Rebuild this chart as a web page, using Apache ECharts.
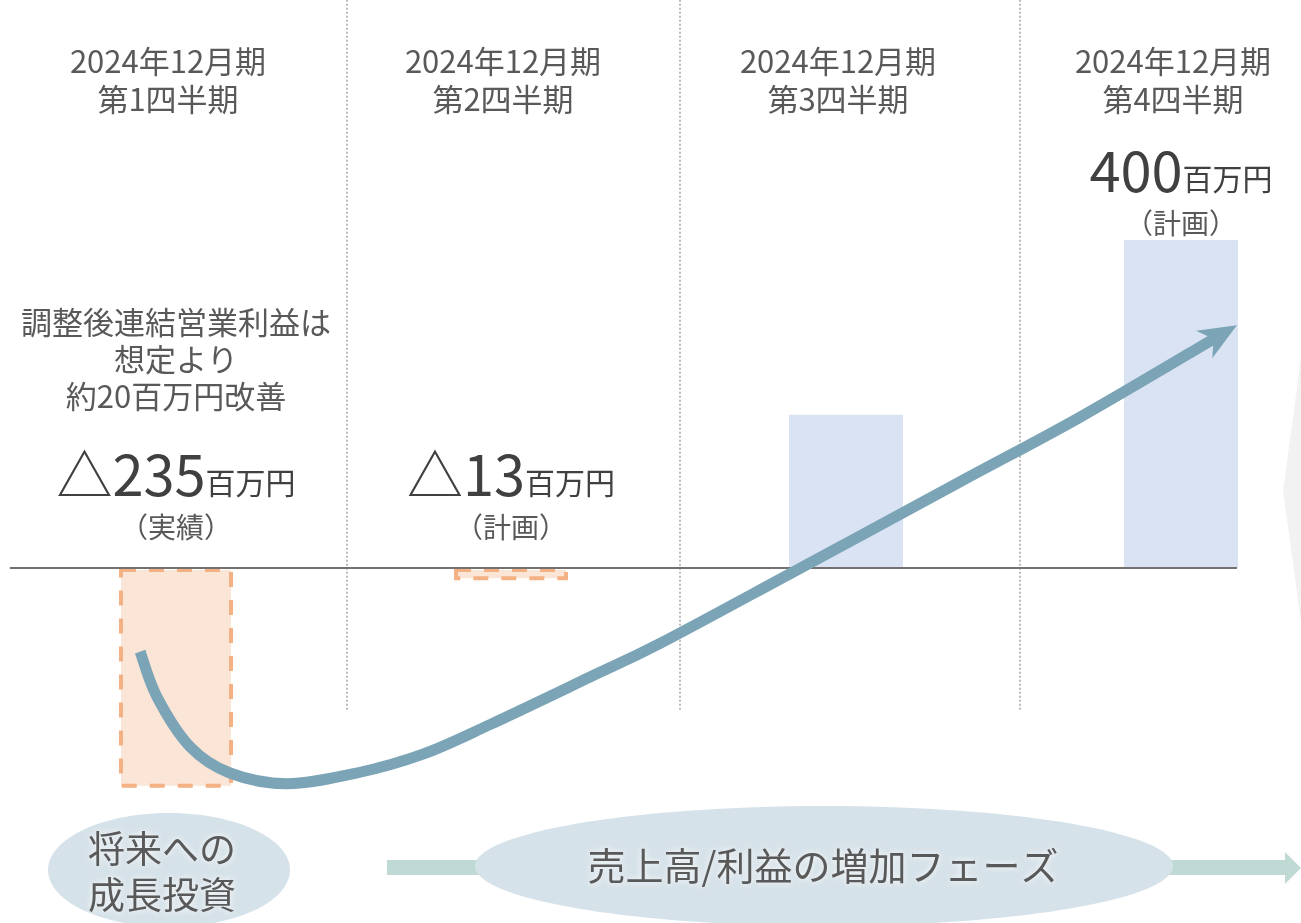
<!DOCTYPE html>
<html>
<head>
<meta charset="utf-8">
<script src="https://cdn.jsdelivr.net/npm/echarts@6/dist/echarts.min.js"></script>
<style>
html,body{margin:0;padding:0;background:#fff;}
#chart{width:1301px;height:923px;}
</style>
</head>
<body>
<div id="chart"></div>
<script>
// ---- data ----
const quarters = ['2024年12月期\n第1四半期', '2024年12月期\n第2四半期', '2024年12月期\n第3四半期', '2024年12月期\n第4四半期'];
const barValues = [-268, -15, 187, 400];
const barKinds = ['actualNeg', 'planNeg', 'planPos', 'planPos'];
const valueLabels = ['△235', '△13', '', '400'];
const unitLabel = '百万円';
const statusLabels = ['（実績）', '（計画）', '', '（計画）'];
const q1Comment = ['調整後連結営業利益は', '想定より', '約20百万円改善'];
const curveX = [-0.107, -0.057, 0.042, 0.161, 0.331, 0.540, 0.737, 0.937, 1.236, 1.445, 1.842, 2.340, 2.699];
const curveY = [-102, -157, -218, -250, -263, -250, -227, -191, -133, -92, -5, 105, 184];
const arrowEnd = [3.167, 296];
const dividerX = [0.51, 1.505, 2.52];
const phaseLeft = ['将来への', '成長投資'];
const phaseRight = '売上高/利益の増加フェーズ';

const JP = '"Noto Sans CJK JP", "Noto Sans", sans-serif';
const GREY = '#595959';
const DARK = '#404040';
const CURVE = '#7BA4B6';

const chart = echarts.init(document.getElementById('chart'));

function labelFor(i) {
  if (!valueLabels[i]) return '';
  let s = '';
  if (i === 0) {
    s += q1Comment.map(t => '{note|' + t + '}').join('\n') + '\n{gap| }\n';
  }
  s += '{big|' + valueLabels[i] + '}{unit|' + unitLabel + '}\n{sub|' + statusLabels[i] + '}';
  return s;
}

const styleByKind = {
  actualNeg: { color: '#FBE5D6', borderColor: '#F4B183', borderWidth: 4, borderType: [15, 13] },
  planNeg: { color: '#FBE5D6', borderColor: '#F4B183', borderWidth: 4, borderType: [15, 13] },
  planPos: { color: '#DAE3F3', borderWidth: 0 }
};

const barData = barValues.map((v, i) => ({
  value: v,
  itemStyle: styleByKind[barKinds[i]],
  label: { distance: v < 0 ? 24 : 0 }
}));

// smooth trend arrow drawn from data points via the axes' coordinate conversion
function renderTrend(params, api) {
  if (params.dataIndex !== 0) return null;
  const pts = curveX.map((x, i) => api.coord([x, curveY[i]]));
  const tip = api.coord(arrowEnd);
  const last = pts[pts.length - 1];
  let dx = tip[0] - last[0], dy = tip[1] - last[1];
  const len = Math.sqrt(dx * dx + dy * dy);
  dx /= len; dy /= len;
  const nx = -dy, ny = dx;
  const headLen = 38, headHalf = 16, notch = 27;
  const notchPt = [tip[0] - dx * notch, tip[1] - dy * notch];
  const all = pts.concat([notchPt]);
  let d = 'M' + all[0][0] + ' ' + all[0][1];
  for (let i = 0; i < all.length - 1; i++) {
    const p0 = all[Math.max(0, i - 1)], p1 = all[i], p2 = all[i + 1], p3 = all[Math.min(all.length - 1, i + 2)];
    const c1 = [p1[0] + (p2[0] - p0[0]) / 6, p1[1] + (p2[1] - p0[1]) / 6];
    const c2 = [p2[0] - (p3[0] - p1[0]) / 6, p2[1] - (p3[1] - p1[1]) / 6];
    d += ' C' + c1[0] + ' ' + c1[1] + ' ' + c2[0] + ' ' + c2[1] + ' ' + p2[0] + ' ' + p2[1];
  }
  const back = [tip[0] - dx * headLen, tip[1] - dy * headLen];
  return {
    type: 'group',
    children: [
      { type: 'path', shape: { pathData: d }, style: { fill: null, stroke: CURVE, lineWidth: 11, lineCap: 'butt', lineJoin: 'round' } },
      {
        type: 'polygon',
        shape: { points: [tip, [back[0] + nx * headHalf, back[1] + ny * headHalf], [notchPt[0], notchPt[1]], [back[0] - nx * headHalf, back[1] - ny * headHalf]] },
        style: { fill: CURVE }
      }
    ]
  };
}

const option = {
  backgroundColor: '#fff',
  animation: false,
  grid: { left: 8.5, width: 1340, top: -6, bottom: 10.6, outerBoundsMode: 'none', containLabel: false },
  xAxis: [
    {
      type: 'category', data: quarters, position: 'top', gridIndex: 0,
      axisLine: { show: false }, axisTick: { show: false }, splitLine: { show: false },
      axisLabel: {
        inside: true, margin: 48, fontSize: 31, lineHeight: 38, color: GREY,
        fontFamily: JP, padding: [0, 16, 0, 0], interval: 0
      }
    },
    { type: 'value', min: -0.5, max: 3.5, show: false, gridIndex: 0 }
  ],
  yAxis: [{ type: 'value', min: -420, max: 700, show: false }],
  series: [
    {
      type: 'line', name: 'frame', xAxisIndex: 1, yAxisIndex: 0, z: 1,
      data: [[-0.5, 0]], showSymbol: false, symbol: 'none', lineStyle: { width: 0 },
      silent: true,
      markLine: {
        silent: true, symbol: 'none', label: { show: false },
        lineStyle: { type: [2, 2], color: '#A6A6A6', width: 1.5 },
        data: dividerX.map(x => [{ coord: [x, 693] }, { coord: [x, -174] }]).concat([
          [{ coord: [-0.496, 0], lineStyle: { type: 'solid', color: '#767171', width: 2 } },
           { coord: [3.167, 0] }]
        ])
      }
    },
    {
      type: 'bar', name: '調整後連結営業利益', xAxisIndex: 0, yAxisIndex: 0, z: 3,
      barWidth: 114, data: barData,
      label: {
        show: true, position: 'top', align: 'center',
        formatter: p => labelFor(p.dataIndex),
        rich: {
          note: { fontSize: 31, lineHeight: 37, color: GREY, fontFamily: JP },
          gap: { fontSize: 10, lineHeight: 25 },
          big: { fontSize: 56, lineHeight: 70, color: DARK, fontFamily: JP },
          unit: { fontSize: 30, lineHeight: 30, color: DARK, fontFamily: JP, padding: [15, 0, 0, 0] },
          sub: { fontSize: 28, lineHeight: 34, color: GREY, fontFamily: JP }
        }
      }
    },
    {
      type: 'custom', name: 'trend', xAxisIndex: 1, yAxisIndex: 0, z: 5,
      coordinateSystem: 'cartesian2d', clip: false, silent: true,
      data: curveX.map((x, i) => [x, curveY[i]]),
      encode: { x: 0, y: 1 },
      renderItem: renderTrend
    }
  ],
  graphic: [
    { type: 'polygon', z: 1, shape: { points: [[1301, 358], [1283, 491], [1301, 622], [1310, 622], [1310, 358]] }, style: { fill: '#F2F2F2' } },
    { type: 'rect', z: 10, shape: { x: 387, y: 860, width: 898, height: 15 }, style: { fill: '#BFDAD5' } },
    { type: 'polygon', z: 10, shape: { points: [[1285, 852], [1301, 868], [1285, 884]] }, style: { fill: '#BFDAD5' } },
    { type: 'ellipse', z: 11, shape: { cx: 169, cy: 870, rx: 121, ry: 57 }, style: { fill: '#D6E2E9' } },
    { type: 'ellipse', z: 11, shape: { cx: 824, cy: 866, rx: 349, ry: 60 }, style: { fill: '#D6E2E9' } },
    {
      type: 'text', z: 12,
      style: {
        text: phaseLeft.join('\n'), x: 162, y: 872, align: 'center', verticalAlign: 'middle',
        fontSize: 37, lineHeight: 46, fontFamily: JP, fill: GREY,
        textShadowColor: '#ffffff', textShadowBlur: 6
      }
    },
    {
      type: 'text', z: 12,
      style: {
        text: phaseRight, x: 823, y: 866, align: 'center', verticalAlign: 'middle',
        fontSize: 38, fontFamily: JP, fill: GREY,
        textShadowColor: '#ffffff', textShadowBlur: 6
      }
    }
  ]
};
chart.setOption(option);
</script>
</body>
</html>
